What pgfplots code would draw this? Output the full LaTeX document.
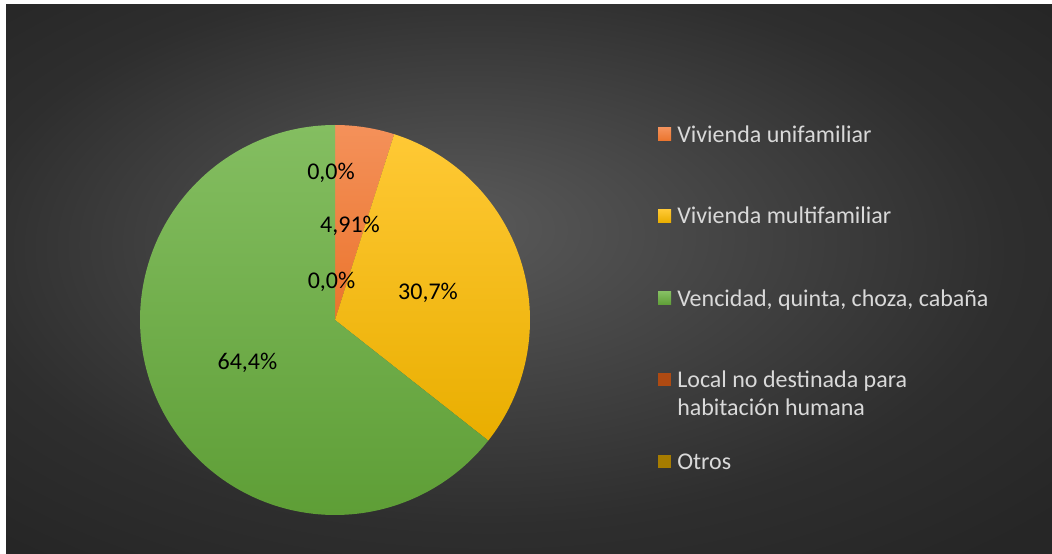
\documentclass[border=0pt]{standalone}
\usepackage{pgfplots}
\pgfplotsset{compat=1.18}
\usepackage{fontspec}
\setmainfont{Carlito}
\definecolor{bgin}{HTML}{5A5A5A}
\definecolor{bgmid}{HTML}{2E2E2E}
\definecolor{bgout}{HTML}{262626}
\definecolor{orTop}{HTML}{F4915A}
\definecolor{orBot}{HTML}{EB742C}
\definecolor{yeTop}{HTML}{FFC935}
\definecolor{yeBot}{HTML}{E9AE00}
\definecolor{grTop}{HTML}{84BE61}
\definecolor{grBot}{HTML}{5E9E36}
\definecolor{locC}{HTML}{AE4A12}
\definecolor{otrC}{HTML}{A67C00}
\definecolor{legtxt}{HTML}{D9D9D9}
\pgfdeclareradialshading{bgshade}{\pgfpoint{-4bp}{5bp}}{color(0bp)=(bgin); color(25bp)=(bgmid); color(35bp)=(bgout); color(50bp)=(bgout)}
\begin{document}
\begin{tikzpicture}[x=0.75pt,y=0.75pt]
\useasboundingbox (0,0) rectangle (1052,553);
\fill[white] (0,0) rectangle (1052,553);
\fill[bgout] (6,0) rectangle (1052,548);
\shade[shading=bgshade] (6,0) rectangle (1052,548);
\begin{axis}[at={(251.25pt,174.75pt)}, anchor=center, scale only axis,
  width=292.5pt, height=292.5pt, xmin=-1, xmax=1, ymin=-1, ymax=1,
  hide axis, clip=false]
% slices: Vivienda unifamiliar 4.91, multifamiliar 30.7, Vencidad 64.4, Local 0.0, Otros 0.0
\addplot[draw=none, top color=orTop, bottom color=orBot, domain=72.324:90, samples=20, variable=\t] ({cos(t)},{sin(t)}) -- (axis cs:0,0) -- cycle;
\addplot[draw=none, top color=yeTop, bottom color=yeBot, domain=-38.196:72.324, samples=80, variable=\t] ({cos(t)},{sin(t)}) -- (axis cs:0,0) -- cycle;
\addplot[draw=none, top color=grTop, bottom color=grBot, domain=-270:-38.196, samples=150, variable=\t] ({cos(t)},{sin(t)}) -- (axis cs:0,0) -- cycle;
\begin{scope}[every node/.style={anchor=base, inner sep=0pt, font=\fontsize{18}{22}\selectfont, text=black}]
\node at (axis cs:-0.0205,0.718) {0,0\%};
\node at (axis cs:0.077,0.451) {4,91\%};
\node at (axis cs:-0.018,0.164) {0,0\%};
\node at (axis cs:0.477,0.103) {30,7\%};
\node at (axis cs:-0.449,-0.256) {64,4\%};
\end{scope}
\end{axis}
% legend
\begin{scope}[every node/.style={anchor=base west, inner sep=0pt, font=\fontsize{18}{22}\selectfont, text=legtxt}]
\shade[top color=orTop, bottom color=orBot] (658,412) rectangle (671,425);
\node at (677,410.8) {Vivienda unifamiliar};
\shade[top color=yeTop, bottom color=yeBot] (658,330.5) rectangle (671,343.5);
\node at (677,329.3) {Vivienda multifamiliar};
\shade[top color=grTop, bottom color=grBot] (658,248) rectangle (671,261);
\node at (677,246.8) {Vencidad, quinta, choza, cabaña};
\fill[locC] (658,166.5) rectangle (671,179.5);
\node at (677,165.3) {Local no destinada para};
\node at (677,137.3) {habitación humana};
\fill[otrC] (658,85) rectangle (671,98);
\node at (677,83.8) {Otros};
\end{scope}
\end{tikzpicture}
\end{document}
